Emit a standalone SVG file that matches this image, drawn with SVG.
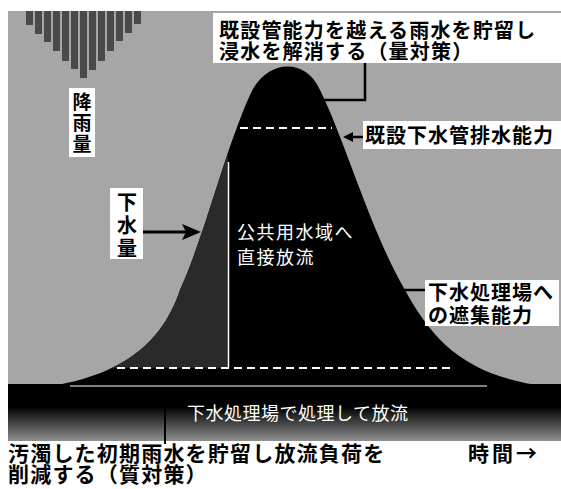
<svg xmlns="http://www.w3.org/2000/svg" width="561" height="489" viewBox="0 0 561 489">
<style>
  text { font-family: "Noto Sans CJK JP", "Noto Sans", sans-serif; }
  .lbl { font-size: 20px; font-weight: 700; fill: #000; }
  .inv { font-size: 18px; fill: #fff; }
  .box { fill: #fff; }
  .dash { stroke: #fff; stroke-width: 2; stroke-dasharray: 8 5; fill: none; }
  .lead { stroke: #000; stroke-width: 2.5; fill: none; }
  .vert { writing-mode: vertical-rl; }
</style>
<defs>
  <linearGradient id="band" x1="0" y1="0" x2="0" y2="1">
    <stop offset="0" stop-color="#000"/>
    <stop offset="0.4" stop-color="#000"/>
    <stop offset="1" stop-color="#8f8f8f"/>
  </linearGradient>
  <clipPath id="bellClip">
    <path d="M 8,390 C 110,386 160,350 180,290 C 205,235 225,150 250,95 C 265,60 305,56 320,90 C 345,140 370,230 405,290 C 435,345 470,380 561,388 L 561,400 L 8,400 Z"/>
  </clipPath>
</defs>

<rect x="0" y="0" width="561" height="489" fill="#fff"/>

<g id="background">
  <rect x="8" y="11" width="553" height="430" fill="#a6a6a6"/>
</g>

<g id="rainfall">
  <g fill="#4a4a4a">
    <rect x="26" y="11" width="7" height="14"/>
    <rect x="35" y="11" width="7" height="23"/>
    <rect x="44" y="11" width="7" height="31"/>
    <rect x="53" y="11" width="7" height="40"/>
    <rect x="62" y="11" width="7" height="50"/>
    <rect x="71" y="11" width="7" height="58"/>
    <rect x="80" y="11" width="7" height="67"/>
    <rect x="89" y="11" width="7" height="59"/>
    <rect x="98" y="11" width="7" height="50"/>
    <rect x="107" y="11" width="7" height="40"/>
    <rect x="116" y="11" width="7" height="30"/>
    <rect x="125" y="11" width="7" height="22"/>
    <rect x="134" y="11" width="7" height="13"/>
  </g>
</g>

<g id="bottom-band">
  <rect x="8" y="384" width="553" height="57" fill="url(#band)"/>
</g>

<g id="hydrograph">
  <path d="M 8,390 C 110,386 160,350 180,290 C 205,235 225,150 250,95 C 265,60 305,56 320,90 C 345,140 370,230 405,290 C 435,345 470,380 561,388 L 561,400 L 8,400 Z" fill="#000"/>
  <rect x="0" y="140" width="228" height="228" fill="#2a2a2a" clip-path="url(#bellClip)"/>
  <line x1="228.5" y1="162" x2="228.5" y2="368" stroke="#fff" stroke-width="1.5"/>
  <line x1="240" y1="128" x2="332" y2="128" class="dash"/>
  <line x1="117" y1="368" x2="450" y2="368" class="dash"/>
  <line x1="70" y1="386" x2="487" y2="386" stroke="#fff" stroke-width="1"/>
</g>

<g id="connectors">
  <polyline class="lead" points="365,63 365,100 323,100"/>
  <line x1="143" y1="232" x2="186" y2="232" stroke="#000" stroke-width="3"/>
  <polygon points="201,232 182,224 186,232 182,240" fill="#000"/>
  <line x1="352" y1="137" x2="363" y2="137" stroke="#000" stroke-width="2.5"/>
  <polygon points="343,137 353,132 353,142" fill="#000"/>
  <line x1="403" y1="290" x2="426" y2="290" stroke="#000" stroke-width="2.5"/>
  <line x1="165" y1="396" x2="165" y2="444" stroke="#000" stroke-width="2"/>
</g>

<g id="label-quantity">
  <rect class="box" x="213" y="13" width="348" height="50"/>
  <text class="lbl" letter-spacing="1.2"><tspan x="219" y="38">既設管能力を越える雨水を貯留し</tspan><tspan x="219" y="59">浸水を解消する（量対策）</tspan></text>
</g>

<g id="label-rainfall">
  <rect class="box" x="69" y="88" width="26" height="69"/>
  <text class="lbl vert" x="82" y="92" letter-spacing="2" style="font-size:19px">降雨量</text>
</g>

<g id="label-pipe-capacity">
  <rect class="box" x="363" y="121" width="198" height="28"/>
  <text class="lbl" x="365" y="143" letter-spacing="1">既設下水管排水能力</text>
</g>

<g id="label-sewage">
  <rect class="box" x="110" y="188" width="33" height="71"/>
  <text class="lbl vert" x="127" y="192" letter-spacing="3">下水量</text>
</g>

<g id="label-direct">
  <text class="inv" letter-spacing="1.5"><tspan x="237" y="239">公共用水域へ</tspan><tspan x="237" y="264">直接放流</tspan></text>
</g>

<g id="label-interception">
  <rect class="box" x="425" y="280" width="134" height="46"/>
  <text class="lbl" letter-spacing="1"><tspan x="428" y="300">下水処理場へ</tspan><tspan x="428" y="323">の遮集能力</tspan></text>
</g>

<g id="label-treatment">
  <text class="inv" x="187" y="420" letter-spacing="0.5">下水処理場で処理して放流</text>
</g>

<g id="label-quality">
  <text class="lbl" letter-spacing="1.2" style="font-size:21px"><tspan x="8" y="461">汚濁した初期雨水を貯留し放流負荷を</tspan><tspan x="8" y="482">削減する（質対策）</tspan></text>
</g>

<g id="label-time">
  <text class="lbl" x="468" y="461" letter-spacing="3" style="font-size:21px">時間→</text>
</g>
</svg>
